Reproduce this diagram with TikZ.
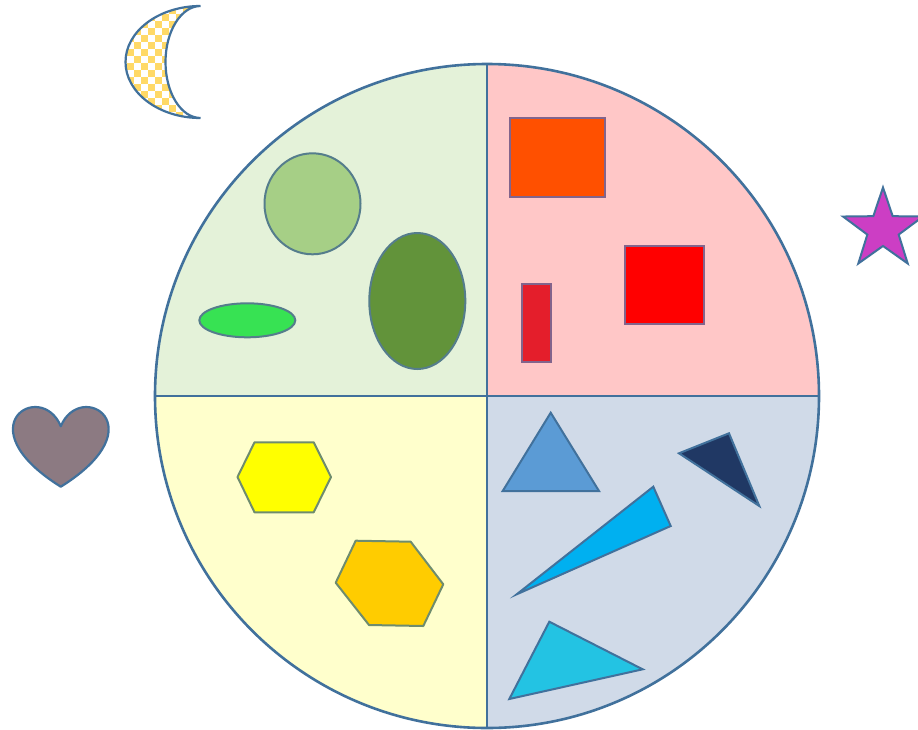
\documentclass[tikz,border=0pt]{standalone}
\usetikzlibrary{shapes.geometric}
\definecolor{outl}{RGB}{65,113,156}
\definecolor{qgreen}{RGB}{228,242,217}
\definecolor{qpink}{RGB}{255,199,199}
\definecolor{qyellow}{RGB}{255,255,204}
\definecolor{qblue}{RGB}{208,218,232}
\definecolor{elloutl}{RGB}{85,125,140}
\definecolor{hexoutl}{RGB}{110,140,110}
\definecolor{rectoutl}{RGB}{130,100,140}
\definecolor{lgreen}{RGB}{166,207,134}
\definecolor{dgreen}{RGB}{98,147,58}
\definecolor{bgreen}{RGB}{55,226,83}
\definecolor{orect}{RGB}{255,80,0}
\definecolor{rrect}{RGB}{255,0,0}
\definecolor{srect}{RGB}{228,30,43}
\definecolor{hexy}{RGB}{255,255,0}
\definecolor{hexo}{RGB}{255,204,0}
\definecolor{tri1}{RGB}{91,155,213}
\definecolor{tri2}{RGB}{32,56,100}
\definecolor{tri3}{RGB}{0,176,240}
\definecolor{tri4}{RGB}{35,195,227}
\definecolor{starc}{RGB}{204,62,196}
\definecolor{heartc}{RGB}{140,122,130}
\definecolor{moonc}{RGB}{255,217,102}
\tikzset{
  ellshape/.style={draw=elloutl, line width=2pt},
  rectshape/.style={draw=rectoutl, line width=2pt},
  hexshape/.style={draw=hexoutl, line width=2pt, line join=round},
  trishape/.style={draw=outl, line width=2pt, line join=miter},
}
\begin{document}
\begin{tikzpicture}[x=1pt,y=-1pt]
\useasboundingbox (0,0) rectangle (918,729);
\fill[white] (0,0) rectangle (918,729);
% quadrants
\begin{scope}
\clip (487,396) circle[radius=332pt];
\fill[qgreen] (150,60) rectangle (487,396);
\fill[qpink] (487,60) rectangle (825,396);
\fill[qyellow] (150,396) rectangle (487,732);
\fill[qblue] (487,396) rectangle (825,732);
\end{scope}
\coordinate (c) at (487,396);
\draw[outl, line width=2.6pt] (487,64) -- (487,728);
\draw[outl, line width=2.6pt] (155,396) -- (819,396);
\draw[outl, line width=2.6pt] (c) circle[radius=332pt];
% ellipses
\fill[lgreen] (312.5,203.8) ellipse[x radius=48pt, y radius=50.5pt];
\draw[ellshape] (312.5,203.8) ellipse[x radius=48pt, y radius=50.5pt];
\fill[dgreen] (417.3,301) ellipse[x radius=48pt, y radius=68pt];
\draw[ellshape] (417.3,301) ellipse[x radius=48pt, y radius=68pt];
\fill[bgreen] (247.3,320.3) ellipse[x radius=48pt, y radius=17pt];
\draw[ellshape] (247.3,320.3) ellipse[x radius=48pt, y radius=17pt];
% rectangles
\filldraw[rectshape, fill=orect] (509.5,118) rectangle (605,196.5);
\filldraw[rectshape, fill=rrect] (624.5,245.5) rectangle (703.5,323.5);
\filldraw[rectshape, fill=srect] (522,284) rectangle (551,362);
% hexagons
\filldraw[hexshape, fill=hexy] (237.5,477) -- (254.5,442.3) -- (313.7,442.3) -- (331,477) -- (313.7,512.3) -- (254.5,512.3) -- cycle;
\filldraw[hexshape, fill=hexo] (335.7,582.7) -- (355.7,540.7) -- (410.7,541.7) -- (443.3,584.3) -- (423.3,626) -- (369,625) -- cycle;
% triangles
\filldraw[trishape, fill=tri1] (550.7,412.7) -- (599,491) -- (502.7,491) -- cycle;
\filldraw[trishape, fill=tri2] (679,453.3) -- (729,433.3) -- (759.3,506) -- cycle;
\filldraw[trishape, fill=tri3] (516.7,594.3) -- (653.3,486.7) -- (670.7,526) -- cycle;
\filldraw[trishape, fill=tri4] (549.3,621.7) -- (642.7,669.3) -- (509.3,699) -- cycle;
% star
\node[star, star points=5, star point ratio=2.55, minimum size=84pt, inner sep=0pt,
      draw=outl, line width=2pt, fill=starc] (star) at (883,229.5) {};
% heart
\filldraw[draw=outl, line width=2.2pt, fill=heartc, line join=round]
  (60.8,426.2) .. controls (80.6,379.1) and (157.8,426.2) .. (60.8,486.7)
  .. controls (-36.2,426.2) and (41,379.1) .. (60.8,426.2) -- cycle;
% moon
\begin{scope}
\clip (200.5,6) arc[start angle=90, end angle=270, x radius=75pt, y radius=56pt]
  arc[start angle=270, end angle=90, x radius=35pt, y radius=56pt] -- cycle;
\fill[white] (120,0) rectangle (205,125);
\foreach \i in {0,...,12} {
  \foreach \j in {0,...,17} {
    \pgfmathtruncatemacro{\chkpar}{mod(\i+\j,2)}
    \ifnum\chkpar=0
      \fill[moonc] (120+7*\i,0+7*\j) rectangle (127+7*\i,7+7*\j);
    \fi
  }
}
\end{scope}
\draw[outl, line width=2.2pt, line join=miter] (200.5,6) arc[start angle=90, end angle=270, x radius=75pt, y radius=56pt]
  arc[start angle=270, end angle=90, x radius=35pt, y radius=56pt] -- cycle;
\end{tikzpicture}
\end{document}
